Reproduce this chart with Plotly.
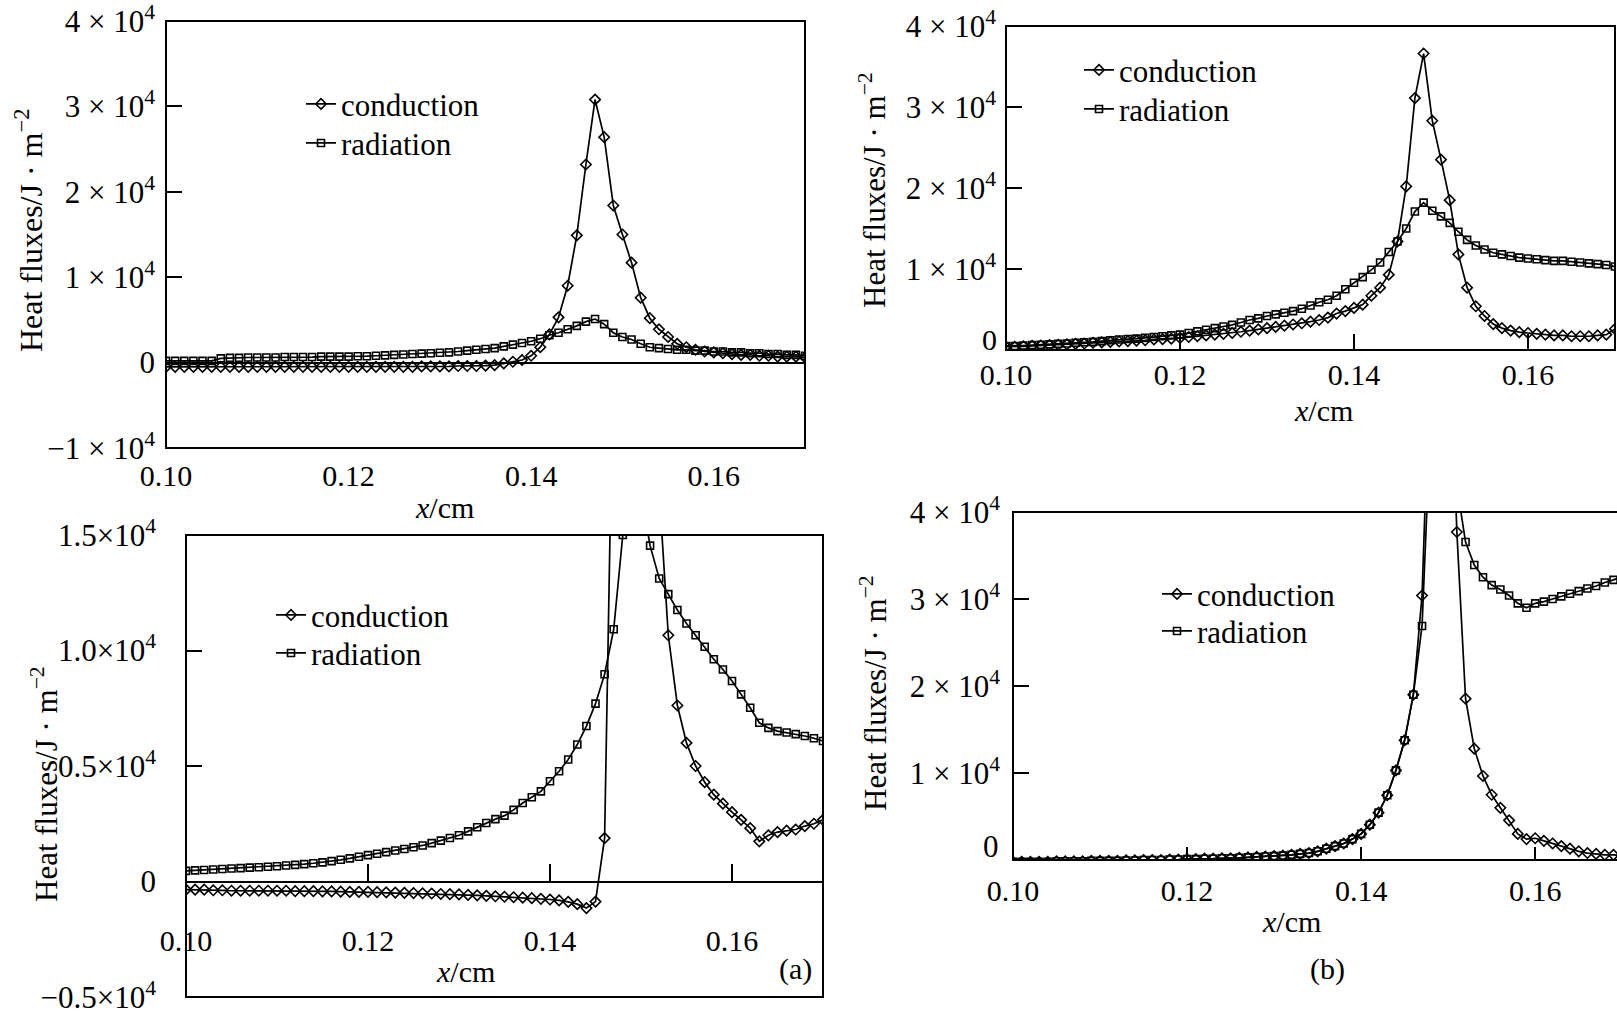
import plotly.graph_objects as go

W, H = 1617, 1021
SERIF = "Liberation Serif, Times New Roman, serif"

x_cm = [0.100, 0.101, 0.102, 0.103, 0.104, 0.105, 0.106, 0.107, 0.108, 0.109,
        0.110, 0.111, 0.112, 0.113, 0.114, 0.115, 0.116, 0.117, 0.118, 0.119,
        0.120, 0.121, 0.122, 0.123, 0.124, 0.125, 0.126, 0.127, 0.128, 0.129,
        0.130, 0.131, 0.132, 0.133, 0.134, 0.135, 0.136, 0.137, 0.138, 0.139,
        0.140, 0.141, 0.142, 0.143, 0.144, 0.145, 0.146, 0.147, 0.148, 0.149,
        0.150, 0.151, 0.152, 0.153, 0.154, 0.155, 0.156, 0.157, 0.158, 0.159,
        0.160, 0.161, 0.162, 0.163, 0.164, 0.165, 0.166, 0.167, 0.168, 0.169, 0.170]

# heat fluxes, in units of 1e4 J/m^2
cond_a_upper = [-0.05, -0.05, -0.05, -0.05, -0.05, -0.05, -0.05, -0.05, -0.05, -0.05,
                -0.05, -0.05, -0.05, -0.05, -0.05, -0.05, -0.05, -0.05, -0.05, -0.05,
                -0.05, -0.05, -0.05, -0.05, -0.05, -0.05, -0.05, -0.05, -0.045, -0.045,
                -0.045, -0.045, -0.04, -0.04, -0.04, -0.035, -0.03, -0.01, 0.01, 0.03,
                0.08, 0.18, 0.33, 0.53, 0.90, 1.49, 2.32, 3.08, 2.64, 1.84,
                1.50, 1.17, 0.76, 0.52, 0.39, 0.30, 0.22, 0.18, 0.15, 0.13,
                0.12, 0.11, 0.10, 0.09, 0.09, 0.08, 0.08, 0.07, 0.07, 0.07, 0.06]
rad_a_upper = [0.02, 0.02, 0.02, 0.02, 0.02, 0.02, 0.05, 0.055, 0.055, 0.06,
               0.06, 0.06, 0.06, 0.065, 0.065, 0.065, 0.065, 0.07, 0.07, 0.07,
               0.07, 0.075, 0.075, 0.08, 0.085, 0.09, 0.095, 0.10, 0.105, 0.11,
               0.115, 0.12, 0.13, 0.14, 0.15, 0.16, 0.17, 0.19, 0.21, 0.23,
               0.25, 0.28, 0.32, 0.35, 0.39, 0.43, 0.48, 0.51, 0.45, 0.35,
               0.30, 0.27, 0.22, 0.18, 0.17, 0.16, 0.15, 0.15, 0.14, 0.14,
               0.13, 0.13, 0.12, 0.12, 0.11, 0.11, 0.10, 0.10, 0.09, 0.09, 0.08]
cond_b_upper = [0.04, 0.04, 0.045, 0.05, 0.055, 0.06, 0.065, 0.07, 0.075, 0.08,
                0.09, 0.095, 0.10, 0.105, 0.11, 0.115, 0.12, 0.13, 0.135, 0.14,
                0.15, 0.16, 0.17, 0.18, 0.19, 0.20, 0.21, 0.225, 0.24, 0.255,
                0.27, 0.285, 0.30, 0.315, 0.33, 0.35, 0.37, 0.40, 0.45, 0.48,
                0.52, 0.56, 0.67, 0.77, 0.93, 1.34, 2.02, 3.11, 3.66, 2.83,
                2.35, 1.85, 1.18, 0.77, 0.54, 0.42, 0.32, 0.27, 0.24, 0.22,
                0.21, 0.20, 0.19, 0.18, 0.18, 0.17, 0.17, 0.17, 0.18, 0.19, 0.26]
rad_b_upper = [0.05, 0.05, 0.055, 0.06, 0.065, 0.07, 0.075, 0.08, 0.09, 0.095,
               0.10, 0.11, 0.12, 0.13, 0.135, 0.14, 0.15, 0.16, 0.17, 0.18,
               0.19, 0.21, 0.23, 0.25, 0.27, 0.29, 0.31, 0.34, 0.37, 0.39,
               0.42, 0.44, 0.46, 0.48, 0.51, 0.55, 0.59, 0.62, 0.67, 0.75,
               0.83, 0.90, 0.99, 1.08, 1.21, 1.34, 1.50, 1.71, 1.82, 1.72,
               1.65, 1.57, 1.46, 1.36, 1.29, 1.24, 1.20, 1.18, 1.16, 1.14,
               1.13, 1.12, 1.11, 1.10, 1.10, 1.09, 1.08, 1.07, 1.06, 1.05, 1.03]
cond_a_lower = [-0.035, -0.035, -0.035, -0.038, -0.038, -0.04, -0.04, -0.04, -0.04, -0.04,
                -0.04, -0.04, -0.042, -0.042, -0.042, -0.043, -0.043, -0.044, -0.045, -0.045,
                -0.045, -0.046, -0.047, -0.048, -0.049, -0.05, -0.051, -0.052, -0.054, -0.055,
                -0.056, -0.058, -0.06, -0.062, -0.064, -0.066, -0.068, -0.07, -0.072, -0.075,
                -0.078, -0.082, -0.088, -0.098, -0.115, -0.087, 0.188, 2.4, 3.6, 4.2,
                3.5, 2.4, 1.69, 1.066, 0.762, 0.60, 0.50, 0.43, 0.376, 0.337,
                0.30, 0.267, 0.231, 0.174, 0.20, 0.214, 0.22, 0.225, 0.24, 0.25, 0.267]
rad_a_lower = [0.046, 0.048, 0.05, 0.052, 0.054, 0.056, 0.058, 0.06, 0.062, 0.064,
               0.066, 0.069, 0.072, 0.075, 0.079, 0.083, 0.088, 0.094, 0.10, 0.107,
               0.114, 0.12, 0.127, 0.134, 0.141, 0.148, 0.156, 0.166, 0.177, 0.188,
               0.20, 0.217, 0.235, 0.253, 0.27, 0.285, 0.31, 0.34, 0.365, 0.39,
               0.434, 0.477, 0.528, 0.593, 0.673, 0.77, 0.897, 1.092, 1.50, 1.95,
               1.68, 1.454, 1.312, 1.244, 1.175, 1.117, 1.066, 1.016, 0.962, 0.918,
               0.868, 0.81, 0.752, 0.687, 0.665, 0.651, 0.645, 0.638, 0.63, 0.62, 0.608]
cond_b_lower = [-0.02, -0.02, -0.02, -0.02, -0.02, -0.015, -0.015, -0.015, -0.015, -0.01,
                -0.01, -0.01, -0.01, -0.005, -0.005, 0.0, 0.0, 0.0, 0.005, 0.005,
                0.01, 0.01, 0.015, 0.015, 0.02, 0.02, 0.025, 0.03, 0.035, 0.04,
                0.045, 0.05, 0.06, 0.07, 0.08, 0.10, 0.13, 0.16, 0.19, 0.24,
                0.30, 0.406, 0.544, 0.744, 1.03, 1.376, 1.90, 3.04, 6.5, 9.0,
                6.5, 3.77, 1.854, 1.28, 0.966, 0.75, 0.60, 0.456, 0.30, 0.24,
                0.25, 0.22, 0.19, 0.16, 0.13, 0.10, 0.08, 0.07, 0.06, 0.06, 0.05]
rad_b_lower = [-0.02, -0.02, -0.02, -0.02, -0.02, -0.015, -0.015, -0.015, -0.015, -0.01,
               -0.01, -0.01, -0.01, -0.005, -0.005, 0.0, 0.0, 0.0, 0.005, 0.005,
               0.01, 0.01, 0.015, 0.015, 0.02, 0.02, 0.025, 0.03, 0.035, 0.04,
               0.045, 0.05, 0.06, 0.07, 0.08, 0.10, 0.13, 0.16, 0.19, 0.24,
               0.30, 0.406, 0.544, 0.744, 1.03, 1.376, 1.90, 2.69, 5.5, 7.5,
               6.0, 4.3, 3.655, 3.39, 3.25, 3.16, 3.11, 3.04, 2.95, 2.90,
               2.95, 2.97, 3.00, 3.03, 3.06, 3.09, 3.12, 3.15, 3.19, 3.22, 3.26]

xtick_vals = [0.10, 0.12, 0.14, 0.16]
xtick_text = ["0.10", "0.12", "0.14", "0.16"]
ytick_vals_1 = [-1, 0, 1, 2, 3, 4]
ytick_text_1 = ["\u22121 \u00d7 10<sup>4</sup>", "0", "1 \u00d7 10<sup>4</sup>",
                "2 \u00d7 10<sup>4</sup>", "3 \u00d7 10<sup>4</sup>", "4 \u00d7 10<sup>4</sup>"]
# the "0" of the right-hand panels sits a little above its tick, it is placed separately
ytick_vals_2 = [1, 2, 3, 4]
ytick_text_2 = ["1 \u00d7 10<sup>4</sup>", "2 \u00d7 10<sup>4</sup>",
                "3 \u00d7 10<sup>4</sup>", "4 \u00d7 10<sup>4</sup>"]
ytick_vals_3 = [-0.5, 0, 0.5, 1.0, 1.5]
ytick_text_3 = ["\u22120.5\u00d710<sup>4</sup>", "0", "0.5\u00d710<sup>4</sup>",
                "1.0\u00d710<sup>4</sup>", "1.5\u00d710<sup>4</sup>"]


def fx(p):
    return p / W


def fy(p):
    return 1 - p / H


# pixel boxes of the four panels: (x0, x1, ytop, ybottom)
panels = {
    "1": dict(box=(166, 805, 21, 448), xr=[0.10, 0.17], yr=[-1, 4]),
    "2": dict(box=(1006, 1615, 26, 350), xr=[0.10, 0.17], yr=[0, 4]),
    "3": dict(box=(186, 823, 535, 997), xr=[0.10, 0.17], yr=[-0.5, 1.5]),
    "4": dict(box=(1013, 1617, 512, 860), xr=[0.10, 0.1694], yr=[0, 4]),
}

series = {
    "1": (cond_a_upper, rad_a_upper),
    "2": (cond_b_upper, rad_b_upper),
    "3": (cond_a_lower, rad_a_lower),
    "4": (cond_b_lower, rad_b_lower),
}

fig = go.Figure()

for i, (k, (cond, rad)) in enumerate(series.items()):
    xa = "x" if k == "1" else "x" + k
    ya = "y" if k == "1" else "y" + k
    lg_c = "legend" if i == 0 else "legend%d" % (2 * i + 1)
    lg_r = "legend%d" % (2 * i + 2)
    fig.add_trace(go.Scatter(
        x=x_cm, y=cond, mode="lines+markers", name="conduction",
        line=dict(color="black", width=1.7),
        marker=dict(symbol="diamond-open", size=8, color="black", line=dict(width=1.6)),
        xaxis=xa, yaxis=ya, legend=lg_c))
    fig.add_trace(go.Scatter(
        x=x_cm, y=rad, mode="lines+markers", name="radiation",
        line=dict(color="black", width=1.7),
        marker=dict(symbol="square-open", size=7, color="black", line=dict(width=1.6)),
        xaxis=xa, yaxis=ya, legend=lg_r))

xfont = dict(family=SERIF, size=30, color="black")
yfont = dict(family=SERIF, size=31, color="black")
layout = dict(
    template="none",
    width=W, height=H, margin=dict(l=0, r=0, t=0, b=0, autoexpand=False),
    paper_bgcolor="white", plot_bgcolor="white", showlegend=True,
)

xstand = {"1": 7, "2": 4, "3": 32, "4": 10}
ystand = {"1": 10, "2": 9, "3": 29, "4": 12}
xticks = {"1": "", "2": "inside", "3": "inside", "4": "inside"}
xticklen = {"1": 0, "2": 16, "3": 17, "4": 13}

for k, p in panels.items():
    x0, x1, yt, yb = p["box"]
    xname = "xaxis" if k == "1" else "xaxis" + k
    yname = "yaxis" if k == "1" else "yaxis" + k
    ya = "y" if k == "1" else "y" + k
    xa = "x" if k == "1" else "x" + k
    xax = dict(domain=[fx(x0), fx(x1)], range=p["xr"], tickvals=xtick_vals, ticktext=xtick_text,
               ticks=xticks[k], ticklen=xticklen[k], tickwidth=2, tickcolor="black",
               showgrid=False, zeroline=False, showline=False, tickfont=xfont,
               ticklabelstandoff=xstand[k], ticklabeloverflow="allow",
               automargin=False, fixedrange=True)
    if k == "3":
        # the x axis of this panel runs along y = 0
        ydom0, ydom1 = fy(yb), fy(yt)
        zero_pos = ydom0 + (0 - p["yr"][0]) / (p["yr"][1] - p["yr"][0]) * (ydom1 - ydom0)
        xax.update(anchor="free", position=zero_pos, showline=True, linecolor="black",
                   linewidth=2)
    else:
        xax.update(anchor=ya)
    if k == "3":
        yvals, ytext = ytick_vals_3, ytick_text_3
    elif k == "1":
        yvals, ytext = ytick_vals_1, ytick_text_1
    else:
        yvals, ytext = ytick_vals_2, ytick_text_2
    yax = dict(domain=[fy(yb), fy(yt)], range=p["yr"], anchor=xa, tickvals=yvals, ticktext=ytext,
               ticks="inside", ticklen=16, tickwidth=2, tickcolor="black", showgrid=False,
               zeroline=(k == "1"), zerolinecolor="black", zerolinewidth=1.6,
               showline=False, tickfont=yfont, ticklabelstandoff=ystand[k],
               ticklabeloverflow="allow", automargin=False, fixedrange=True)
    layout[xname] = xax
    layout[yname] = yax

fig.update_layout(**layout)

# frames of the four panels
for k in panels:
    xa = "x" if k == "1" else "x" + k
    ya = "y" if k == "1" else "y" + k
    fig.add_shape(type="rect", xref=xa + " domain", yref=ya + " domain",
                  x0=0, x1=1.01 if k == "4" else 1, y0=0, y1=1,
                  line=dict(color="black", width=2), fillcolor="rgba(0,0,0,0)")

# one legend per entry so each line can sit where the original has it
legfont = dict(family=SERIF, size=31, color="black")
leg_dy = 28.7
legpos = {
    "legend": (301, 106), "legend2": (301, 145),
    "legend3": (1079, 72), "legend4": (1079, 111),
    "legend5": (271, 617), "legend6": (271, 655),
    "legend7": (1157, 596), "legend8": (1157, 633),
}
for name, (lx, ly) in legpos.items():
    fig.update_layout({name: dict(x=fx(lx), y=fy(ly - leg_dy), xanchor="left", yanchor="top",
                                  bgcolor="rgba(0,0,0,0)", borderwidth=0, font=legfont,
                                  itemwidth=30, tracegroupgap=0)})

ytitle = "Heat fluxes/J \u00b7 m<sup>\u22122</sup>"
annots = [
    (29, 231, ytitle, -90, 32),
    (872, 190, ytitle, -90, 31),
    (44, 784, ytitle, -90, 31),
    (873, 693, ytitle, -90, 31),
    (444, 507, "<i>x</i>/cm", 0, 30),
    (1323, 411, "<i>x</i>/cm", 0, 30),
    (465, 971, "<i>x</i>/cm", 0, 30),
    (1291, 921, "<i>x</i>/cm", 0, 30),
    (795, 969, "(a)", 0, 30),
    (1327, 969, "(b)", 0, 30),
    (989, 339, "0", 0, 30),
    (991, 846, "0", 0, 31),
]
for ax_, ay_, txt, ang, sz in annots:
    fig.add_annotation(x=fx(ax_), y=fy(ay_), xref="paper", yref="paper", text=txt,
                       showarrow=False, textangle=ang, xanchor="center", yanchor="middle",
                       font=dict(family=SERIF, size=sz, color="black"))

fig.write_html("out.html", config={"displayModeBar": False},
               post_script="document.body.style.margin='0';")
